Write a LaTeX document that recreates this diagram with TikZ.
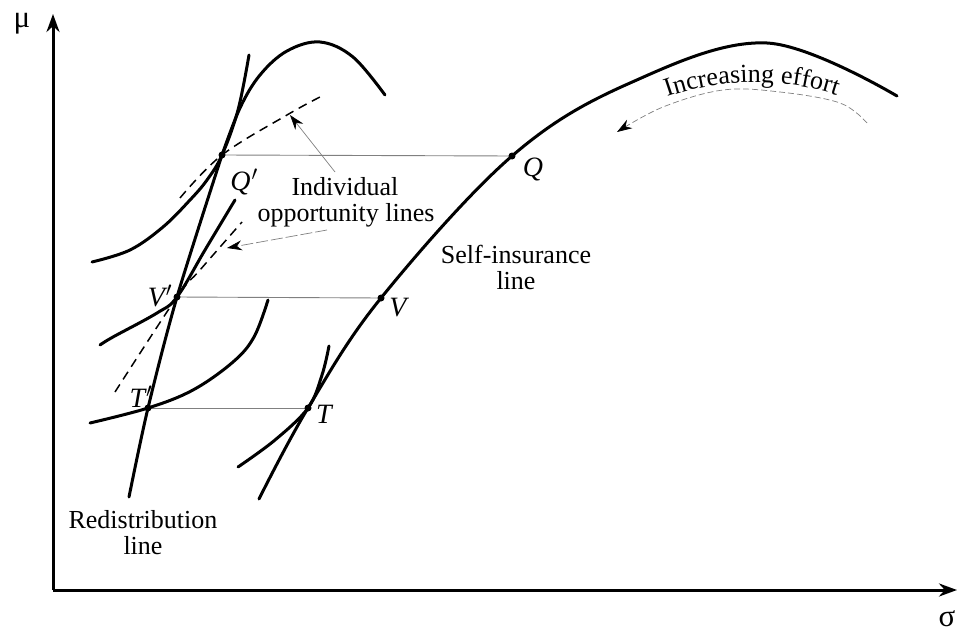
\documentclass[tikz,border=0pt]{standalone}
\usepackage{fontspec}
\setmainfont{Liberation Serif}
\usetikzlibrary{arrows.meta,decorations.text}
\tikzset{
  curve/.style={line width=3pt, line cap=round},
  axis/.style={line width=3pt, -{Stealth[length=18pt,width=13pt]}},
  opp/.style={line width=1.5pt, dash pattern=on 9pt off 6pt},
  guide/.style={gray, line width=0.9pt},
  pointer/.style={gray, line width=0.7pt, -{Stealth[black,length=15pt,width=10pt]}},
  dot/.style={circle, fill=black, inner sep=0pt, minimum size=7pt},
  lbl/.style={font=\fontsize{26}{28}\selectfont, inner sep=0pt},
  plbl/.style={font=\fontsize{28}{30}\selectfont\itshape, inner sep=0pt, anchor=base},
}
\begin{document}
\begin{tikzpicture}[x=1pt,y=-1pt]
\useasboundingbox (0,0) rectangle (959,634);
% axes
\coordinate (O) at (53,590);
\coordinate (ytip) at (53,14);
\coordinate (xtip) at (957,590);
\draw[axis] (O) -- (ytip);
\draw[axis] (O) -- (xtip);
\node[font=\fontsize{31}{33}\selectfont, inner sep=0pt] (mu) at (22,24) {μ};
\node[font=\fontsize{31}{33}\selectfont, inner sep=0pt] (sigma) at (947,619) {σ};
% points
\coordinate (Qp) at (222,155);
\coordinate (Q) at (512,156);
\coordinate (Vp) at (177,297);
\coordinate (V) at (381,298);
\coordinate (Tp) at (148,408);
\coordinate (T) at (308,408);
% guide lines
\draw[guide] (Qp) -- (Q);
\draw[guide] (Vp) -- (V);
\draw[guide] (Tp) -- (T);
% self-insurance line
\draw[curve] plot[smooth, tension=0.6] coordinates {(259,499) (T) (V) (Q) (630,83) (767,43) (897,96)};
% indifference curve at T
\draw[curve] plot[smooth, tension=0.6] coordinates {(238,467) (275,440) (T) (322,375) (329,346)};
% redistribution line
\draw[curve] plot[smooth, tension=0.5] coordinates {(129,497) (Tp) (Vp) (Qp)};
% indifference curve at T'
\draw[curve] plot[smooth, tension=0.6] coordinates {(90,423) (Tp) (193,390) (233,362) (254,337) (268,300)};
% indifference curve at V'
\draw[curve] plot[smooth, tension=0.6] coordinates {(100,345) (113,337) (157,313) (Vp) (205,250) (235,200)};
% indifference curve at Q'
\draw[curve] plot[smooth, tension=0.6] coordinates {(92,262) (130,250) (163,227) (190,200) (207,180) (Qp) (238,110) (249,55)};
% individual opportunity curve at Q'
\draw[curve] plot[smooth, tension=0.6] coordinates {(Qp) (240,108) (260,75) (287,51) (320,42) (353,57) (385,95)};
% dashed opportunity lines
\draw[opp] plot[smooth, tension=0.6] coordinates {(180,198) (Qp) (287,115) (320,97)};
\draw[opp] plot[smooth, tension=0.6] coordinates {(115,392) (Vp) (200,270) (242,222)};
% dots
\foreach \p in {Qp,Q,Vp,V,Tp,T} \node[dot] at (\p) {};
% point labels
\node[plbl] (lQp) at (244,190) {Q\kern1pt$'$};
\node[plbl] (lQ) at (533,176) {Q};
\node[plbl] (lVp) at (160,306) {V\kern1pt$'$};
\node[plbl] (lV) at (398,316) {V};
\node[plbl] (lTp) at (141,407) {T\kern1pt$'$};
\node[plbl] (lT) at (324,423) {T};
% text labels
\node[lbl, anchor=base] (ind1) at (345,195) {Individual};
\node[lbl, anchor=base] (ind2) at (346,221) {opportunity lines};
\node[lbl, anchor=base] (self1) at (516,263) {Self-insurance};
\node[lbl, anchor=base] (self2) at (516,289) {line};
\node[lbl, anchor=base] (red1) at (143,528) {Redistribution};
\node[lbl, anchor=base] (red2) at (143,554) {line};
% pointers
\coordinate (p1s) at (335,172);
\coordinate (p1e) at (290,115);
\coordinate (p2s) at (327,230);
\coordinate (p2e) at (227,248);
\draw[pointer] (p1s) -- (p1e);
\draw[pointer, dash pattern=on 12pt off 3pt] (p2s) -- (p2e);
% increasing effort
\draw[gray, line width=0.7pt, dash pattern=on 6pt off 3pt, -{Stealth[black,length=15pt,width=10pt]}] plot[smooth, tension=0.6] coordinates {(867,123) (840,103) (780,92) (723,90) (663,107) (617,132)};
\path[decorate, decoration={text along path, text align=center, text={|\fontsize{26}{28}\selectfont|Increasing effort}}] (654,102) .. controls (715,77) and (785,75) .. (850,100);
\end{tikzpicture}
\end{document}
